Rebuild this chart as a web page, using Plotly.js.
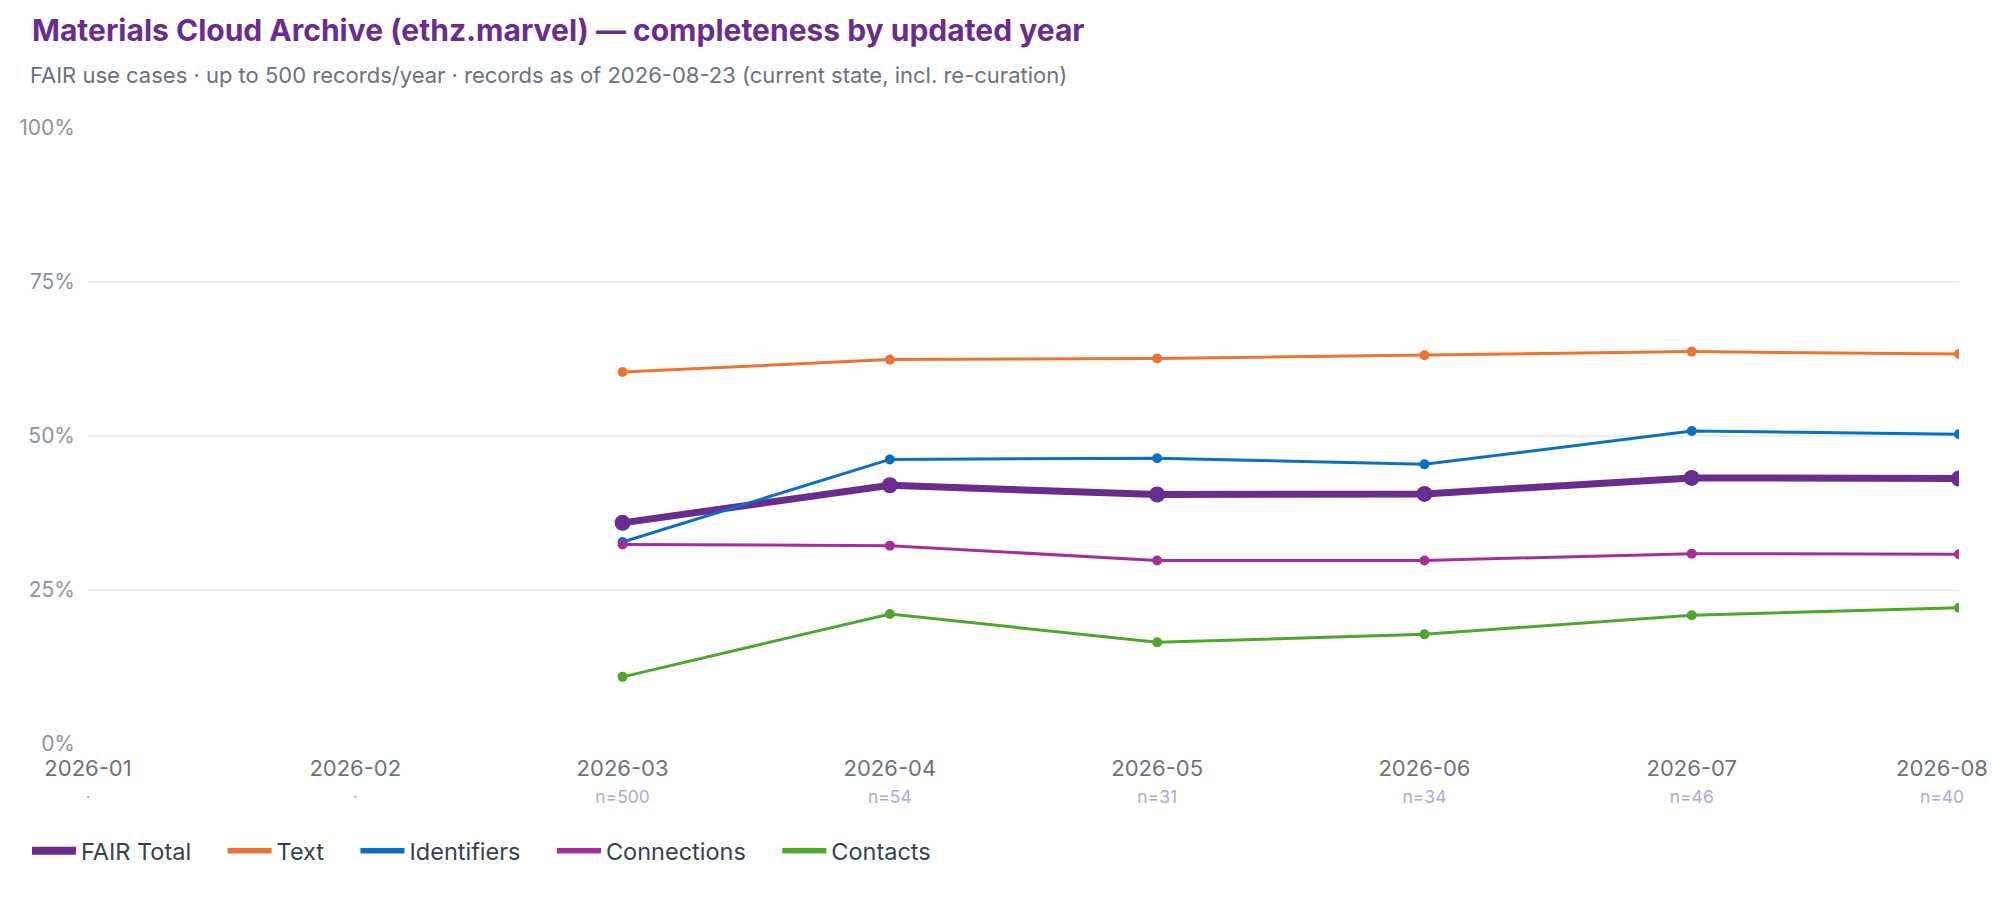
<!DOCTYPE html>
<html>
<head>
<meta charset="utf-8">
<script src="https://cdn.plot.ly/plotly-3.0.1.min.js"></script>
<style>
  html, body { margin: 0; padding: 0; background: #fff; }
  #chart { width: 1992px; height: 916px; }
</style>
</head>
<body>
<div id="chart"></div>
<script>
// months on the x axis and record counts per month
const months = ['2026-01', '2026-02', '2026-03', '2026-04', '2026-05', '2026-06', '2026-07', '2026-08'];
const counts = [null, null, 500, 54, 31, 34, 46, 40];

// completeness in percent, null where no records
const fairTotal   = [null, null, 35.9, 42.0, 40.5, 40.6, 43.2, 43.1];
const textScore   = [null, null, 60.4, 62.4, 62.6, 63.1, 63.7, 63.3];
const identifiers = [null, null, 32.8, 46.2, 46.4, 45.4, 50.8, 50.3];
const connections = [null, null, 32.4, 32.2, 29.8, 29.8, 30.9, 30.8];
const contacts    = [null, null, 10.9, 21.1, 16.5, 17.8, 20.9, 22.1];

const seriesNames  = ['FAIR Total', 'Text', 'Identifiers', 'Connections', 'Contacts'];
const seriesValues = [fairTotal, textScore, identifiers, connections, contacts];
const seriesColors = ['#6a2c8e', '#ea7433', '#0a70c4', '#a32f98', '#4fa72f'];

const FONT = 'Inter, "Noto Sans", sans-serif';
const NB = '\u00a0';
const idx = months.map((m, i) => i);
const last = months.length - 1;
const countLabels = counts.map(n => n == null ? '·' : 'n=' + n);

const data = [];
seriesNames.forEach((name, k) => {
    const main = k === 0;
    data.push({
        x: idx,
        y: seriesValues[k],
        name: name,
        legendgroup: name,
        showlegend: false,
        type: 'scatter',
        mode: 'lines+markers',
        line: { color: seriesColors[k], width: main ? 7 : 3 },
        marker: { color: seriesColors[k], size: main ? 16 : 10 },
        hovertemplate: name + ': %{y:.1f}%<extra></extra>'
    });
});
// legend entries: plain line swatches, no markers
seriesNames.forEach((name, k) => {
    data.push({
        x: [null],
        y: [null],
        name: k < seriesNames.length - 1 ? name + NB.repeat(4) : name,
        legendgroup: name,
        type: 'scatter',
        mode: 'lines',
        line: { color: seriesColors[k], width: k === 0 ? 8 : 5.5 },
        hoverinfo: 'skip'
    });
});
// empty traces so the extra label axes get drawn
['x2', 'x3', 'x4'].forEach(ax => {
    data.push({
        x: idx, y: idx.map(() => null), xaxis: ax, yaxis: 'y',
        type: 'scatter', mode: 'markers', showlegend: false, hoverinfo: 'skip'
    });
});

function labelAxis(vals, text, size, color, standoff, shift, over) {
    const ax = {
        type: 'linear',
        range: [0, 7],
        tickvals: vals,
        ticktext: text,
        showgrid: false,
        zeroline: false,
        showline: false,
        ticks: '',
        ticklabelstandoff: standoff,
        ticklabelshift: shift,
        ticklabeloverflow: 'allow',
        tickfont: { family: FONT, size: size, color: color }
    };
    if (over) {
        ax.overlaying = 'x';
        ax.anchor = 'y';
        ax.side = 'bottom';
    }
    return ax;
}

const MONTH_COLOR = '#6b7280', COUNT_COLOR = '#b5a6d8';

const layout = {
    width: 1992,
    height: 916,
    paper_bgcolor: '#ffffff',
    plot_bgcolor: '#ffffff',
    font: { family: FONT, color: '#374151' },
    margin: { l: 88, r: 33, t: 128, b: 172 },
    title: {
        text: 'Materials Cloud Archive (ethz.marvel) — completeness by updated year',
        font: { family: FONT, size: 30, color: '#6a2c8e', weight: 700 },
        xref: 'container', yref: 'container',
        x: 32 / 1992, xanchor: 'left',
        y: 1 - 20 / 916, yanchor: 'top'
    },
    annotations: [{
        text: 'FAIR use cases · up to 500 records/year · records as of 2026-08-23 (current state, incl. re-curation)',
        xref: 'paper', yref: 'paper',
        x: (28 - 88) / 1871, xanchor: 'left',
        y: (744 - 75.3) / 616, yanchor: 'middle',
        showarrow: false,
        font: { family: FONT, size: 22, color: '#6b7280' }
    }],
    // month labels; the last one is moved left to stay inside the chart
    xaxis:  labelAxis(idx.slice(0, last), months.slice(0, last), 22, MONTH_COLOR, 9, 0, false),
    xaxis3: labelAxis([last], [months[last]], 22, MONTH_COLOR, 9, -17, true),
    // record counts under the months
    xaxis2: labelAxis(idx.slice(0, last), countLabels.slice(0, last), 17.5, COUNT_COLOR, 40, 0, true),
    xaxis4: labelAxis([last], [countLabels[last]], 17.5, COUNT_COLOR, 40, -17, true),
    yaxis: {
        range: [0, 100],
        dtick: 25,
        ticksuffix: '%',
        showgrid: true,
        gridcolor: '#ededf2',
        gridwidth: 2,
        zeroline: false,
        showline: false,
        ticks: '',
        ticklabelstandoff: 12,
        tickfont: { family: FONT, size: 21, color: '#8d929c' }
    },
    showlegend: true,
    legend: {
        orientation: 'h',
        xref: 'container', yref: 'container',
        x: 27 / 1992, xanchor: 'left',
        y: 1 - 851 / 916, yanchor: 'middle',
        itemwidth: 44,
        font: { family: FONT, size: 23.5, color: '#374151' }
    },
    hovermode: 'closest'
};

Plotly.newPlot('chart', data, layout, { displayModeBar: false, responsive: false });
</script>
</body>
</html>
